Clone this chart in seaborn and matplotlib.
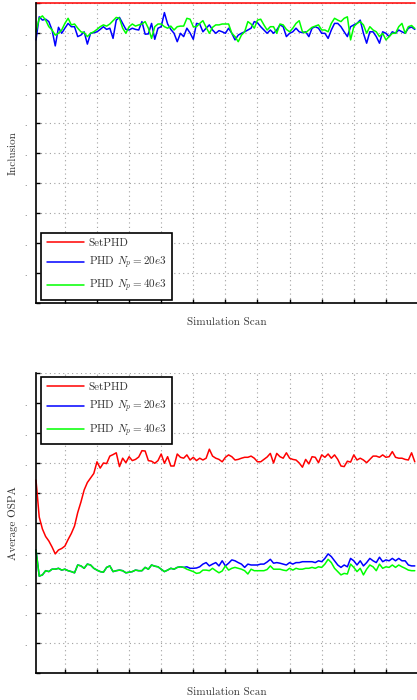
import numpy as np
import pandas as pd
import matplotlib
matplotlib.use("Agg")
import matplotlib.pyplot as plt
import seaborn as sns

# ---------------- data ----------------
scans = list(range(1, 120))

incl_setphd = [1.0] * 119

incl_phd20 = [
    0.877, 0.954, 0.943, 0.946, 0.938, 0.910, 0.857, 0.919, 0.899, 0.916,
    0.932, 0.921, 0.921, 0.888, 0.893, 0.904, 0.863, 0.899, 0.901, 0.904,
    0.912, 0.921, 0.912, 0.916, 0.882, 0.943, 0.952, 0.932, 0.912, 0.910,
    0.916, 0.912, 0.910, 0.938, 0.896, 0.897, 0.932, 0.879, 0.916, 0.921,
    0.968, 0.930, 0.912, 0.899, 0.871, 0.899, 0.888, 0.916, 0.900, 0.879,
    0.932, 0.930, 0.904, 0.916, 0.927, 0.910, 0.899, 0.908,
    0.904, 0.899, 0.916, 0.899, 0.877, 0.893, 0.899, 0.904, 0.910, 0.916,
    0.938, 0.934, 0.921, 0.910, 0.899, 0.910, 0.899, 0.910, 0.927, 0.921,
    0.888, 0.899, 0.904, 0.916, 0.904, 0.901, 0.904, 0.888, 0.916, 0.921,
    0.916, 0.899, 0.899, 0.882, 0.910, 0.932, 0.932, 0.921, 0.904, 0.888,
    0.921, 0.927, 0.932, 0.943, 0.899, 0.866, 0.904, 0.904, 0.888, 0.866,
    0.904, 0.899, 0.888, 0.904, 0.899, 0.910, 0.904, 0.899, 0.916,
    0.920, 0.912,
]

incl_phd40 = [
    0.904, 0.949, 0.957, 0.943, 0.921, 0.910, 0.893, 0.899, 0.910, 0.932,
    0.949, 0.927, 0.930, 0.916, 0.904, 0.901, 0.888, 0.899, 0.904, 0.912,
    0.921, 0.927, 0.923, 0.930, 0.941, 0.952, 0.949, 0.916, 0.899, 0.921,
    0.930, 0.923, 0.927, 0.930, 0.938, 0.916, 0.882, 0.921, 0.930, 0.930,
    0.921, 0.916, 0.923, 0.910, 0.921, 0.923, 0.923, 0.949, 0.946, 0.921,
    0.921, 0.932, 0.941, 0.919, 0.899, 0.919, 0.927, 0.927,
    0.930, 0.930, 0.930, 0.899, 0.888, 0.871, 0.893, 0.904, 0.938, 0.930,
    0.916, 0.943, 0.946, 0.927, 0.910, 0.921, 0.921, 0.899, 0.930, 0.927,
    0.912, 0.904, 0.916, 0.932, 0.941, 0.904, 0.901, 0.910, 0.919, 0.923,
    0.927, 0.910, 0.910, 0.904, 0.932, 0.949, 0.943, 0.938, 0.949, 0.954,
    0.877, 0.921, 0.932, 0.938, 0.927, 0.899, 0.921, 0.910, 0.904, 0.888,
    0.899, 0.877, 0.888, 0.899, 0.899, 0.921, 0.932, 0.899, 0.921,
    0.925, 0.915,
]

ospa_setphd = [
    6.43, 5.20, 4.80, 4.55, 4.40, 4.20, 3.97, 4.10, 4.15, 4.23,
    4.45, 4.65, 4.90, 5.35, 5.70, 6.10, 6.35, 6.50, 6.65, 7.04,
    6.83, 7.00, 6.98, 7.23, 7.28, 7.34, 6.88, 7.16, 7.01, 7.21,
    7.08, 7.12, 7.20, 7.41, 7.40, 7.08, 7.06, 6.99, 7.08, 7.30,
    6.99, 7.21, 6.90, 6.90, 7.30, 7.19, 7.16, 7.27, 7.10, 7.19,
    7.08, 7.16, 7.10, 7.16, 7.46, 7.23, 7.16, 7.12, 7.04, 7.19,
    7.27, 7.21, 7.10, 7.12, 7.16, 7.19, 7.19, 7.23, 7.16, 7.04,
    7.04, 7.12, 7.20, 7.32, 7.00, 7.32, 7.21, 7.16, 7.34, 7.16,
    7.12, 7.10, 7.00, 6.86, 7.12, 6.97, 7.21, 7.19, 7.01, 7.27,
    7.19, 7.30, 7.16, 7.27, 7.12, 6.90, 6.88, 7.06, 7.03, 7.27,
    7.10, 7.16, 7.10, 7.01, 7.12, 7.23, 7.23, 7.19, 7.27, 7.19,
    7.21, 7.38, 7.19, 7.16, 7.16, 7.12, 7.10, 7.34, 7.04,
]

ospa_phd40 = [
    4.10, 3.23, 3.27, 3.41, 3.38, 3.46, 3.46, 3.49, 3.43, 3.46,
    3.41, 3.38, 3.34, 3.60, 3.57, 3.49, 3.63, 3.60, 3.49, 3.43,
    3.38, 3.36, 3.52, 3.57, 3.38, 3.41, 3.43, 3.41, 3.34, 3.36,
    3.38, 3.43, 3.41, 3.41, 3.52, 3.46, 3.60, 3.56, 3.54, 3.46,
    3.38, 3.43, 3.49, 3.46, 3.52, 3.54, 3.52, 3.46, 3.42, 3.38,
    3.32, 3.34, 3.43, 3.43, 3.41, 3.49, 3.41, 3.34, 3.40, 3.57,
    3.43, 3.49, 3.52, 3.49, 3.46, 3.41, 3.30, 3.46, 3.41, 3.41,
    3.41, 3.41, 3.45, 3.57, 3.46, 3.46, 3.46, 3.43, 3.41, 3.49,
    3.43, 3.49, 3.46, 3.46, 3.49, 3.49, 3.52, 3.49, 3.54, 3.52,
    3.63, 3.79, 3.68, 3.49, 3.38, 3.27, 3.32, 3.30, 3.63, 3.52,
    3.38, 3.49, 3.27, 3.46, 3.60, 3.54, 3.41, 3.63, 3.49, 3.54,
    3.52, 3.60, 3.52, 3.60, 3.54, 3.49, 3.43, 3.41, 3.41,
]

ospa_phd20 = [
    4.10, 3.23, 3.27, 3.41, 3.38, 3.46, 3.46, 3.49, 3.43, 3.46,
    3.41, 3.38, 3.34, 3.60, 3.57, 3.49, 3.63, 3.60, 3.49, 3.43,
    3.38, 3.36, 3.52, 3.57, 3.38, 3.41, 3.43, 3.41, 3.34, 3.36,
    3.38, 3.43, 3.41, 3.41, 3.52, 3.46, 3.60, 3.56, 3.54, 3.46,
    3.38, 3.43, 3.49, 3.46, 3.52, 3.54, 3.52, 3.54, 3.49, 3.49,
    3.50, 3.54, 3.63, 3.68, 3.57, 3.63, 3.68, 3.57, 3.74, 3.57,
    3.66, 3.77, 3.74, 3.68, 3.63, 3.52, 3.63, 3.60, 3.60, 3.60,
    3.63, 3.63, 3.70, 3.79, 3.66, 3.68, 3.66, 3.63, 3.60, 3.68,
    3.63, 3.68, 3.68, 3.71, 3.71, 3.71, 3.71, 3.68, 3.74, 3.71,
    3.82, 3.97, 3.88, 3.74, 3.60, 3.52, 3.60, 3.54, 3.82, 3.74,
    3.60, 3.74, 3.57, 3.68, 3.82, 3.74, 3.68, 3.86, 3.71, 3.77,
    3.74, 3.82, 3.74, 3.82, 3.74, 3.74, 3.60, 3.57, 3.57,
]

methods = ["SetPHD", r"PHD $N_p = 20e3$", r"PHD $N_p = 40e3$"]
colors = ["#ff0000", "#0000ff", "#00ff00"]

# ---------------- style ----------------
sns.set_theme(style="white")
plt.rcParams["font.family"] = ["serif"]
plt.rcParams["font.serif"] = ["cmr10", "DejaVu Serif"]
plt.rcParams["mathtext.fontset"] = "cm"
plt.rcParams["axes.formatter.use_mathtext"] = True


def long_df(series):
    frames = []
    for name, vals in zip(methods, series):
        frames.append(pd.DataFrame({"scan": scans, "value": vals, "method": name}))
    return pd.concat(frames, ignore_index=True)


fig = plt.figure(figsize=(4.17, 7.0), dpi=100)
W, H = 417.0, 700.0
ax1 = fig.add_axes([36 / W, 1 - 303 / H, 382 / W, 300 / H])
ax2 = fig.add_axes([36 / W, 1 - 673 / H, 382 / W, 300 / H])

palette = dict(zip(methods, colors))

panels = [
    (ax1, long_df([incl_setphd, incl_phd20, incl_phd40]), "Inclusion",
     np.linspace(0, 1, 11), (0, 1), "lower left", (0.013, 0.01)),
    (ax2, long_df([ospa_setphd, ospa_phd20, ospa_phd40]), "Average OSPA",
     np.linspace(0, 10, 11), (0, 10), "upper left", (0.013, 0.987)),
]

for ax, df, ylab, yt, ylim, loc, anchor in panels:
    sns.lineplot(data=df, x="scan", y="value", hue="method", hue_order=methods,
                 palette=palette, ax=ax, linewidth=1.1, estimator=None)
    for ln in ax.get_lines():
        ln.set_clip_on(False)
    ax.set_xlim(1, 120)
    ax.set_ylim(*ylim)
    ax.set_xticks(np.arange(10, 121, 10))
    ax.set_xticklabels([""] * 12)
    ax.set_yticks(yt)
    ax.set_yticklabels([""] + ["."] * 9 + [""])
    ax.tick_params(axis="both", direction="in", length=3, width=1, color="black",
                   labelsize=6, labelcolor="#444444", pad=7,
                   left=True, bottom=True)
    ax.grid(True, linestyle=(0, (1, 3)), color="#a0a0a0", linewidth=0.8)
    for side in ["top", "right"]:
        ax.spines[side].set_visible(False)
    for side in ["left", "bottom"]:
        ax.spines[side].set_color("black")
        ax.spines[side].set_linewidth(1.2)
    ax.set_xlabel("Simulation Scan", fontsize=8, color="#333333")
    ax.xaxis.set_label_coords(0.5, -19 / 300)
    ax.xaxis.label.set_va("center")
    ax.set_ylabel(ylab, fontsize=8, color="#333333")
    ax.yaxis.set_label_coords(-23 / 382, 0.5)
    ax.yaxis.label.set_va("center")
    handles, labels = ax.get_legend_handles_labels()
    leg = ax.legend(handles, labels, loc=loc, bbox_to_anchor=anchor,
                    fontsize=8, frameon=True, fancybox=False, framealpha=1,
                    edgecolor="black", borderaxespad=0, handlelength=3.4,
                    handletextpad=0.4, labelspacing=0.6, borderpad=0.5)
    leg.get_frame().set_linewidth(1.2)
    for t in leg.get_texts():
        t.set_color("#333333")

fig.savefig("out.png", dpi=100)
